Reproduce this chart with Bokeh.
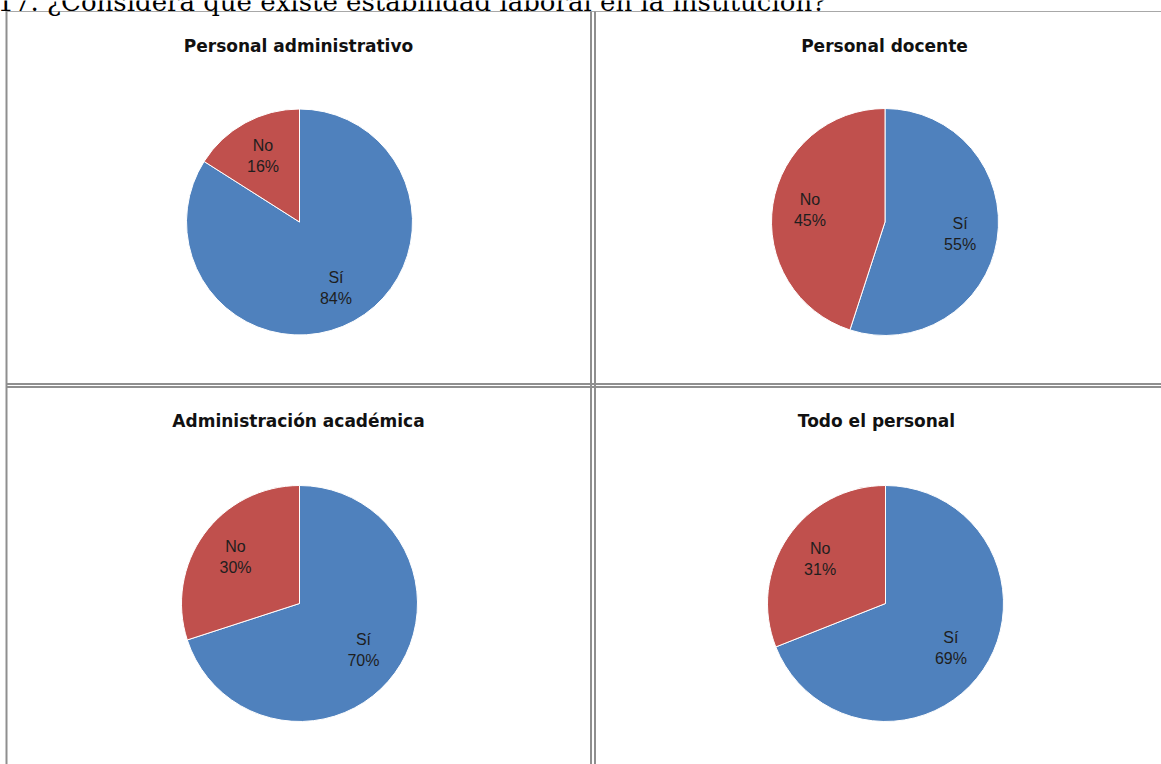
from bokeh.plotting import figure
from bokeh.models import ColumnDataSource, Range1d
from bokeh.core.properties import value
from bokeh.embed import file_html
from bokeh.resources import INLINE
import math

# ---- data ----
question = "17. ¿Considera que existe estabilidad laboral en la institución?"
panel_titles = ["Personal administrativo", "Personal docente",
                "Administración académica", "Todo el personal"]
categories = ["Sí", "No"]
si_pct = [84, 55, 70, 69]
no_pct = [16, 45, 30, 31]
colors = ["#4F81BD", "#C0504D"]

# ---- layout (pixel positions, top-down) ----
W, H = 1161, 764
centers = [(299, 221.5), (884.5, 221.5), (299, 603), (885, 603)]
radii = [113, 113.5, 118, 118]
title_pos = [(298, 45), (884, 45), (298, 420), (876, 420)]
LABEL_FRAC = 0.67

def Y(y):
    return H - y

p = figure(width=W, height=H, output_backend="svg", toolbar_location=None,
           x_range=Range1d(0, W), y_range=Range1d(0, H),
           x_axis_type=None, y_axis_type=None, min_border=0,
           outline_line_color=None, background_fill_color="white",
           border_fill_color="white")
p.grid.visible = False

# borders
border = "#8f8f8f"
p.segment(x0=[5, 6, 590.5, 594.5, 6, 6], y0=[Y(11), Y(11), Y(11), Y(11), Y(383.5), Y(386.5)],
          x1=[W, 6, 590.5, 594.5, W, W], y1=[Y(11), Y(H), Y(H), Y(H), Y(383.5), Y(386.5)],
          line_color=["#a8a8a8", border, border, border, border, border],
          line_width=[1, 2, 2, 2, 2, 2])

# wedges
wx, wy, wr, ws, we, wc = [], [], [], [], [], []
lx, ly, lt = [], [], []
for i in range(4):
    cx, cy = centers[i]
    r = radii[i]
    start = 0.0
    for k, pct in enumerate([si_pct[i], no_pct[i]]):
        frac = pct / (si_pct[i] + no_pct[i])
        a0 = math.pi / 2 - 2 * math.pi * start
        a1 = math.pi / 2 - 2 * math.pi * (start + frac)
        wx.append(cx); wy.append(Y(cy)); wr.append(r)
        ws.append(a0); we.append(a1); wc.append(colors[k])
        mid = (a0 + a1) / 2
        lx.append(cx + LABEL_FRAC * r * math.cos(mid))
        ly.append(Y(cy) + LABEL_FRAC * r * math.sin(mid))
        lt.append(f"{categories[k]}\n{pct}%")
        start += frac

src = ColumnDataSource(dict(x=wx, y=wy, r=wr, s=ws, e=we, c=wc))
p.wedge(x="x", y="y", radius="r", start_angle="s", end_angle="e",
        direction="clock", fill_color="c", line_color="white", line_width=1,
        source=src)

p.text(x=lx, y=ly, text=lt, text_align="center", text_baseline="middle",
       text_font=value("Liberation Sans"), text_font_size="16px",
       text_color="#1e1e1e", text_line_height=1.25)

# titles
p.text(x=[t[0] for t in title_pos], y=[Y(t[1]) for t in title_pos], text=panel_titles,
       text_align="center", text_baseline="middle",
       text_font=value("DejaVu Sans"), text_font_size="17px",
       text_font_style="bold", text_color="#111111")

# cut-off question text at top
p.text(x=[-3], y=[Y(1)], text=[question], text_align="left",
       text_baseline="alphabetic", text_font=value("DejaVu Serif"),
       text_font_size="26px", text_color="#000000")

open("out.html", "w").write(file_html(p, INLINE))
